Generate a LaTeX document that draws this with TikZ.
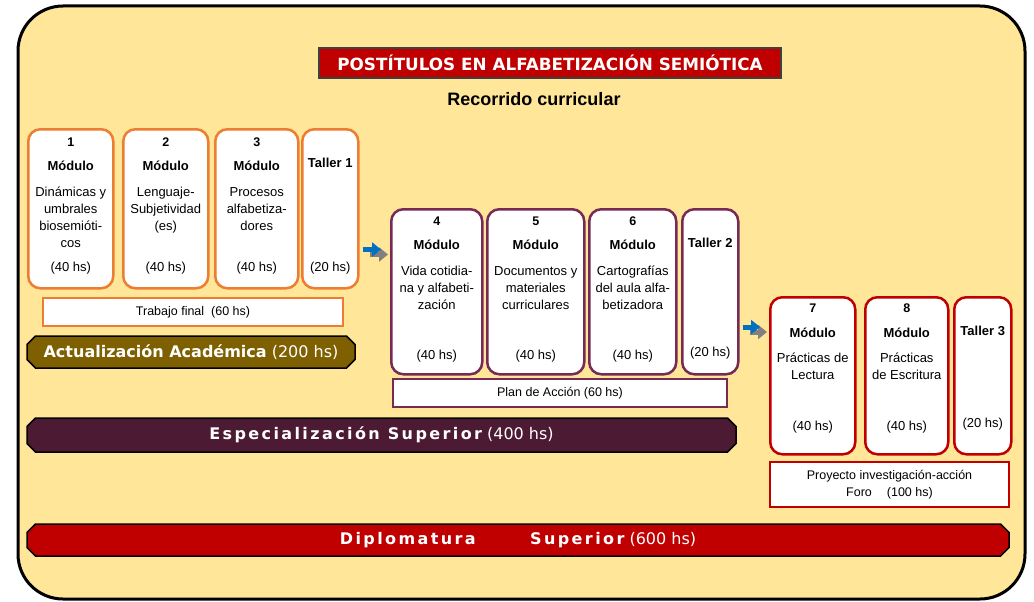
\documentclass[tikz,border=0pt]{standalone}
\usepackage{fontspec}
\setmainfont{Liberation Sans}
\newfontfamily\bannerfont{DejaVu Sans}
\usetikzlibrary{calc,shapes.misc,arrows.meta}

\definecolor{fondo}{RGB}{255,230,153}
\definecolor{naranja}{RGB}{237,125,49}
\definecolor{morado}{RGB}{118,42,84}
\definecolor{bordo}{RGB}{77,26,51}
\definecolor{rojo}{RGB}{192,0,0}
\definecolor{oliva}{RGB}{127,96,0}
\definecolor{azul}{RGB}{0,112,192}
\definecolor{sombra}{RGB}{128,128,128}

\tikzset{
  modbox/.style={draw,fill=white,line width=2.5pt,rounded corners=12pt,
    anchor=north west,inner sep=0pt},
  bar/.style={draw,fill=white,inner sep=0pt,align=center,
    font=\fontsize{12.5}{17}\selectfont},
  nr/.style={inner sep=0pt,font=\bfseries\fontsize{12.5}{15}\selectfont},
  tit/.style={inner sep=0pt,font=\bfseries\fontsize{13}{15}\selectfont},
  txt/.style={inner sep=0pt,anchor=north,align=center,
    font=\fontsize{13}{17}\selectfont},
  hs/.style={inner sep=0pt,font=\fontsize{13}{15}\selectfont},
  banner/.style={chamfered rectangle,chamfered rectangle xsep=5pt,draw=black,
    line width=1.5pt,text=white,inner sep=0pt,font=\bannerfont\fontsize{16}{18}\selectfont},
  flecha/.style={line width=5pt,-{Triangle[length=9pt,width=14pt]}},
  sombreada/.style={flecha,sombra,transform canvas={xshift=7pt,yshift=-5pt}},
}

\begin{document}
\begin{tikzpicture}[x=1pt,y=-1pt]
  \useasboundingbox (0,0) rectangle (1034,602);
  \draw[line width=3pt,fill=fondo,rounded corners=45pt] (18,6) rectangle (1025,599);

  % titulo
  \node[draw=black!75,fill=rojo,line width=2pt,minimum width=462,minimum height=30,
    text=white,font=\bannerfont\bfseries\fontsize{16.8}{18}\selectfont] (titulo) at (550,63)
    {POSTÍTULOS EN ALFABETIZACIÓN SEMIÓTICA};
  \node[font=\bfseries\fontsize{18}{20}\selectfont] (recorrido) at (534,99) {Recorrido curricular};

  % primer tramo
  \foreach \n/\lx/\bw/\nr/\lines in {
    m1/27/85/1/{Dinámicas y\\umbrales\\biosemióti-\\cos},
    m2/122/85/2/{Lenguaje-\\Subjetividad\\(es)},
    m3/214/83/3/{Procesos\\alfabetiza-\\dores}}
  {
    \node[modbox,draw=naranja,minimum width=\bw,minimum height=159] (\n) at (\lx,128) {};
    \node[nr]  (\n-nr)  at ($(\n.north)+(0,14)$) {\nr};
    \node[tit] (\n-tit) at ($(\n.north)+(0,38)$) {Módulo};
    \node[txt] (\n-txt) at ($(\n.north)+(0,59)$) {\lines};
    \node[hs]  (\n-hs)  at ($(\n.south)+(0,-21)$) {(40 hs)};
  }
  \node[modbox,draw=naranja,minimum width=56,minimum height=159] (t1) at (301,128) {};
  \node[bar,draw=naranja,line width=2.5pt,minimum width=300,minimum height=28] (trabajo)
    at (193,312) {Trabajo final\ \ (60 hs)};
  \node[banner,fill=oliva,minimum width=328,minimum height=32] (actualizacion) at (191,352)
    {\textbf{Actualización Académica} (200 hs)};

  % segundo tramo
  \foreach \n/\lx/\bw/\nr/\lines in {
    m4/390/91/4/{Vida cotidia-\\na y alfabeti-\\zación},
    m5/486/97/5/{Documentos y\\materiales\\curriculares},
    m6/588/87/6/{Cartografías\\del aula alfa-\\betizadora}}
  {
    \node[modbox,draw=morado,minimum width=\bw,minimum height=165] (\n) at (\lx,208) {};
    \node[nr]  (\n-nr)  at ($(\n.north)+(0,13)$) {\nr};
    \node[tit] (\n-tit) at ($(\n.north)+(0,37)$) {Módulo};
    \node[txt] (\n-txt) at ($(\n.north)+(0,58)$) {\lines};
    \node[hs]  (\n-hs)  at ($(\n.south)+(0,-19)$) {(40 hs)};
  }
  \node[modbox,draw=morado,minimum width=56,minimum height=165] (t2) at (681,208) {};
  \node[bar,draw=morado,line width=1.2pt,minimum width=334,minimum height=28] (plan)
    at (560,393) {Plan de Acción (60 hs)};
  \node[banner,fill=bordo,minimum width=709,minimum height=34] (especializacion) at (381.5,435)
    {{\bfseries\addfontfeature{LetterSpace=15}Especialización Superior} (400 hs)};

  % tercer tramo
  \foreach \n/\lx/\bw/\nr/\lines in {
    m7/769/85/7/{Prácticas de\\Lectura},
    m8/864/83/8/{Prácticas\\de Escritura}}
  {
    \node[modbox,draw=rojo,minimum width=\bw,minimum height=157] (\n) at (\lx,296) {};
    \node[nr]  (\n-nr)  at ($(\n.north)+(0,12)$) {\nr};
    \node[tit] (\n-tit) at ($(\n.north)+(0,37)$) {Módulo};
    \node[txt] (\n-txt) at ($(\n.north)+(0,57)$) {\lines};
    \node[hs]  (\n-hs)  at ($(\n.south)+(0,-28)$) {(40 hs)};
  }
  \node[modbox,draw=rojo,minimum width=57,minimum height=157] (t3) at (953,296) {};
  \node[bar,draw=rojo,line width=1.5pt,minimum width=239,minimum height=45] (proyecto)
    at (889.5,484.5) {Proyecto investigación-acción\\Foro\hspace{1.2em}(100 hs)};
  \node[banner,fill=rojo,minimum width=982,minimum height=32] (diplomatura) at (518,540)
    {{\bfseries\addfontfeature{LetterSpace=15}Diplomatura\hspace{3.4em}Superior} (600 hs)};

  % talleres
  \foreach \t/\k/\d in {t1/1/21,t2/2/22,t3/3/31}
  {
    \node[tit] (\t-tit) at ($(\t.north)+(0,35)$) {Taller \k};
    \node[hs]  (\t-hs)  at ($(\t.south)+(0,-\d)$) {(20 hs)};
  }

  % flechas
  \coordinate (f1) at (0,249.5);
  \coordinate (f2) at (0,327);
  \draw[sombreada] ([xshift=3]t1.east |- f1) -- ([xshift=-9]m4.west |- f1);
  \draw[flecha,azul] ([xshift=3]t1.east |- f1) -- ([xshift=-9]m4.west |- f1);
  \draw[sombreada] ([xshift=3]t2.east |- f2) -- ([xshift=-9]m7.west |- f2);
  \draw[flecha,azul] ([xshift=3]t2.east |- f2) -- ([xshift=-9]m7.west |- f2);
\end{tikzpicture}
\end{document}
